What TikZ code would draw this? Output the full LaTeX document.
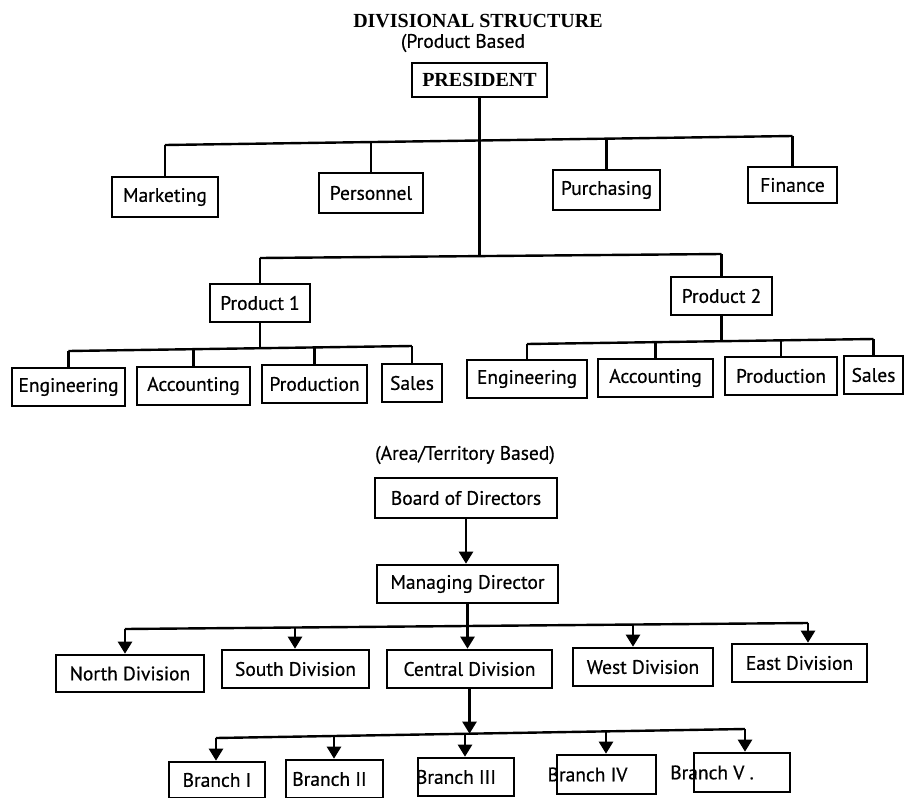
\documentclass[tikz,border=0pt]{standalone}
\usepackage{fontspec}
\setmainfont{PT Sans}
\newfontfamily\bodyfam[BoldFont={PT Sans},BoldFeatures={FakeBold=0.6}]{PT Sans}
\newfontfamily\titlefont{Liberation Serif}
\usetikzlibrary{arrows.meta}
\begin{document}
\begin{tikzpicture}[x=1pt,y=-1pt,
  bodyfont/.style={font=\bodyfam\bfseries\fontsize{19.5}{22}\selectfont},
  headfont/.style={font=\titlefont\bfseries\fontsize{20}{24}\selectfont},
  box/.style={draw, line width=2.6pt, inner sep=0pt, bodyfont, minimum height=38pt},
  lbl/.style={inner sep=0pt, bodyfont},
  wire/.style={line width=2.4pt},
  arr/.style={wire, -{Triangle[width=14pt,length=12pt]}}]
\useasboundingbox (0,0) rectangle (906,798);

% ---------- headings ----------
\node[headfont] (title) at (478,21) {DIVISIONAL STRUCTURE};
\node[lbl] (sub1) at (463,43) {(Product Based};

% ---------- product based structure ----------
\node[box, headfont, minimum width=135pt, minimum height=34pt] (pres) at (479.5,80) {PRESIDENT};

\node[box, minimum width=106pt, minimum height=40pt] (mkt) at (165,197) {Marketing};
\node[box, minimum width=104pt, minimum height=40pt] (per) at (371,193) {Personnel};
\node[box, minimum width=107pt, minimum height=40pt] (pur) at (606.5,190) {Purchasing};
\node[box, minimum width=89pt,  minimum height=36pt] (fin) at (792.5,185) {Finance};

\node[box, minimum width=100pt] (p1) at (260,303) {Product 1};
\node[box, minimum width=101pt] (p2) at (721.5,296) {Product 2};

\node[box, minimum width=113pt] (eng1) at (68.5,387) {Engineering};
\node[box, minimum width=113pt] (acc1) at (193.5,386) {Accounting};
\node[box, minimum width=105pt] (prd1) at (314.5,384) {Production};
\node[box, minimum width=60pt]  (sal1) at (412,383) {Sales};

\node[box, minimum width=120pt] (eng2) at (527,379) {Engineering};
\node[box, minimum width=115pt] (acc2) at (655.5,378) {Accounting};
\node[box, minimum width=112pt] (prd2) at (781,376) {Production};
\node[box, minimum width=59pt]  (sal2) at (873.5,375) {Sales};

% bus junctions
\coordinate (jmkt) at (165,145);
\coordinate (jper) at (371,142);
\coordinate (jpur) at (606.5,138.6);
\coordinate (jfin) at (792.5,136);
\coordinate (jp1) at (260,258);
\coordinate (jmid) at (479.5,256);
\coordinate (jp2) at (721.5,254);
\coordinate (ka) at (68.5,351);
\coordinate (kb) at (193.5,349.2);
\coordinate (kc) at (260,348.2);
\coordinate (kd) at (314.5,347.4);
\coordinate (ke) at (412,346);
\coordinate (ma) at (527,344);
\coordinate (mb) at (655.5,342.1);
\coordinate (mc) at (721.5,341.2);
\coordinate (md) at (781,340.3);
\coordinate (me) at (873.5,339);

\draw[wire] (jmkt) -- (jfin);
\draw[wire] (jmkt) -- (mkt.north);
\draw[wire] (jper) -- (per.north);
\draw[wire] (jpur) -- (pur.north);
\draw[wire] (jfin) -- (fin.north);
\draw[wire] (pres.south) -- (jmid);
\draw[wire] (jp1) -- (jp2);
\draw[wire] (jp1) -- (p1.north);
\draw[wire] (jp2) -- (p2.north);

\draw[wire] (ka) -- (ke);
\draw[wire] (p1.south) -- (kc);
\draw[wire] (ka) -- (eng1.north);
\draw[wire] (kb) -- (acc1.north);
\draw[wire] (kd) -- (prd1.north);
\draw[wire] (ke) -- (sal1.north);

\draw[wire] (ma) -- (me);
\draw[wire] (p2.south) -- (mc);
\draw[wire] (ma) -- (eng2.north);
\draw[wire] (mb) -- (acc2.north);
\draw[wire] (md) -- (prd2.north);
\draw[wire] (me) -- (sal2.north);

% ---------- area / territory based structure ----------
\node[lbl] (sub2) at (465,455) {(Area/Territory Based)};

\node[box, minimum width=182pt, minimum height=40pt] (board) at (466,498) {Board of Directors};
\node[box, minimum width=181pt] (mgd) at (467.5,584) {Managing Director};

\node[box, minimum width=148pt, minimum height=37pt] (north) at (130,673.5) {North Division};
\node[box, minimum width=147pt] (south) at (295.5,669) {South Division};
\node[box, minimum width=165pt] (central) at (469.5,669) {Central Division};
\node[box, minimum width=140pt] (west) at (643,667) {West Division};
\node[box, minimum width=135pt] (east) at (799.5,663) {East Division};

\node[box, minimum width=96pt, minimum height=36pt] (b1) at (217,780) {};
\node[box, minimum width=97pt] (b2) at (334.5,779) {};
\node[box, minimum width=96pt] (b3) at (466,777) {};
\node[box, minimum width=99pt, minimum height=39pt] (b4) at (606.5,774.5) {};
\node[box, minimum width=96pt, minimum height=39pt] (b5) at (742,772.5) {};
\node[lbl] (b1t) at ([xshift=0pt]b1.center) {Branch I};
\node[lbl] (b2t) at ([xshift=-5pt]b2.center) {Branch II};
\node[lbl] (b3t) at ([xshift=-10pt]b3.center) {Branch III};
\node[lbl] (b4t) at ([xshift=-19pt]b4.center) {Branch IV};
\node[lbl] (b5t) at ([xshift=-30pt]b5.center) {Branch V .};

\coordinate (dn) at (125,629);
\coordinate (ds) at (295,627.5);
\coordinate (dw) at (633,624.5);
\coordinate (de) at (808,623);
\coordinate (ea) at (216,738);
\coordinate (eb) at (334,736);
\coordinate (ec) at (465,733.8);
\coordinate (em) at (469.5,733.7);
\coordinate (ed) at (606,731.4);
\coordinate (ee) at (745,729);

\draw[arr] (board.south) -- (board.south |- mgd.north);
\draw[arr] (mgd.south) -- (mgd.south |- central.north);
\draw[wire] (dn) -- (de);
\draw[arr] (dn) -- (dn |- north.north);
\draw[arr] (ds) -- (ds |- south.north);
\draw[arr] (dw) -- (dw |- west.north);
\draw[arr] (de) -- (de |- east.north);

\draw[arr] (central.south) -- (em);
\draw[wire] (ea) -- (ee);
\draw[arr] (ea) -- (ea |- b1.north);
\draw[arr] (eb) -- (eb |- b2.north);
\draw[arr] (ec) -- (ec |- b3.north);
\draw[arr] (ed) -- (ed |- b4.north);
\draw[arr] (ee) -- (ee |- b5.north);
\end{tikzpicture}
\end{document}
